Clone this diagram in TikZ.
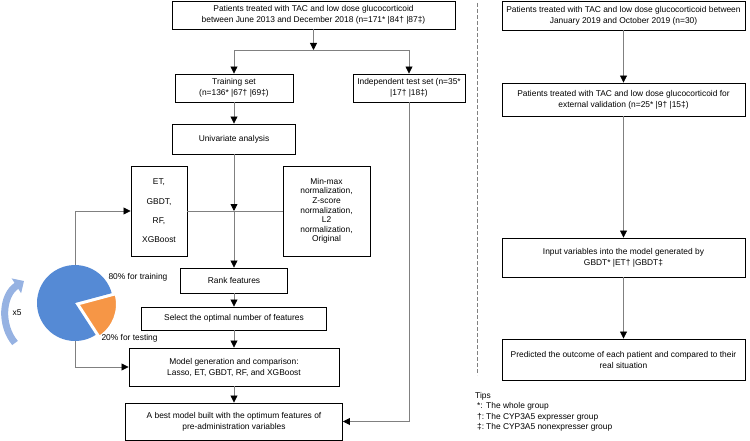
\documentclass[tikz,border=0pt]{standalone}
\usepackage{fontspec}
\setmainfont{Liberation Sans}
\usetikzlibrary{arrows.meta}

\definecolor{pieblue}{RGB}{85,138,213}
\definecolor{pieorange}{RGB}{246,150,70}
\definecolor{loopblue}{RGB}{150,178,226}

\begin{document}
\begin{tikzpicture}[x=1pt, y=-1pt,
  every node/.style={font=\fontsize{8.4}{11}\selectfont},
  box/.style={draw=black, line width=0.9pt, align=center, inner sep=0pt},
  link/.style={draw=gray, line width=0.8pt},
  arr/.style={link, -{Triangle[length=7pt,width=7pt,color=black]}}]
\useasboundingbox (0,0) rectangle (750,441);

% Derivation cohort
\node[box, minimum width=283, minimum height=28] (top) at (313.5,15) {Patients treated with TAC and low dose glucocorticoid\\between June 2013 and December 2018 (n=171* |84† |87‡)};
\coordinate (split) at (313.5,50);

\node[box, minimum width=118, minimum height=28] (train) at (234,88) {Training set\\(n=136* |67† |69‡)};
\node[box, minimum width=112, minimum height=28] (indep) at (409,88) {Independent test set (n=35*\\|17† |18‡)};

\node[box, minimum width=123, minimum height=30] (univ) at (234,139) {Univariate analysis};

% Algorithms and normalization
\node[box, minimum width=56, minimum height=90] (algo) at (159,211) {ET,\\[8.3pt]GBDT,\\[8.3pt]RF,\\[8.3pt]XGBoost};
\node[box, minimum width=87, minimum height=90, font=\fontsize{8.4}{9.6}\selectfont] (norm) at (326.5,211) {Min-max\\normalization,\\Z-score\\normalization,\\L2\\normalization,\\Original};
\coordinate (hub) at (234,211);

\node[box, minimum width=107, minimum height=25] (rank) at (234,280.5) {Rank features};
\node[box, minimum width=185, minimum height=23] (select) at (234,318.5) {Select the optimal number of features};
\node[box, minimum width=210, minimum height=38] (model) at (234,367) {Model generation and comparison:\\Lasso, ET, GBDT, RF, and XGBoost};
\node[box, minimum width=217, minimum height=37] (best) at (234,421.5) {A best model built with the optimum features of\\pre-administration variables};

% Cross validation pie
\coordinate (pie) at (75,303);
\fill[pieblue] (pie) -- ++(57:38) arc[start angle=57, end angle=345, radius=38] -- cycle;
\filldraw[pieorange, draw=white, line width=1.5pt] ([shift={(21:4)}]pie) -- +(-15:38) arc[start angle=-15, end angle=57, radius=38] -- cycle;
\coordinate (pietop) at (75,265);
\coordinate (piebot) at (75,341);
\node[anchor=west] (ptrain) at (105,277) {80\% for training};
\node[anchor=west] (ptest) at (98,338) {20\% for testing};
\draw[line width=7pt, loopblue, -{Triangle[length=9pt,width=17pt]}] (15,343) .. controls (0,325) and (2,295) .. (24,281);
\node (times) at (17,313) {x5};

% Arrows left part
\draw[arr] (top.south) -- (split);
\draw[arr] (split) -| (train.north);
\draw[arr] (split) -| (indep.north);
\draw[arr] (train) -- (univ);
\draw[arr] (univ) -- (hub);
\draw[link] (algo.east) -- (norm.west);
\draw[arr] (hub) -- (rank);
\draw[arr] (rank) -- (select);
\draw[arr] (select) -- (model);
\draw[arr] (model) -- (best);
\draw[arr] (pietop) |- (algo.west);
\draw[arr] (piebot) |- (model.west);
\draw[arr] (indep.south) |- (best.east);

% Separator
\draw[gray, line width=0.6pt, dash pattern=on 4pt off 2pt] (477,3) -- (477,375);

% External validation cohort
\node[box, minimum width=243, minimum height=29] (ext) at (623.5,15.5) {Patients treated with TAC and low dose glucocorticoid between\\January 2019 and October 2019 (n=30)};
\node[box, minimum width=243, minimum height=33] (extval) at (623.5,99.5) {Patients treated with TAC and low dose glucocorticoid for\\external validation (n=25* |9† |15‡)};
\node[box, minimum width=243, minimum height=39] (input) at (623.5,257.5) {Input variables into the model generated by\\GBDT* |ET† |GBDT‡};
\node[box, minimum width=243, minimum height=41] (pred) at (623.5,359.5) {Predicted the outcome of each patient and compared to their\\real situation};

\draw[arr] (ext) -- (extval);
\draw[arr] (extval) -- (input);
\draw[arr] (input) -- (pred);

% Tips
\node[anchor=north west, align=left, inner sep=0pt, font=\fontsize{8.4}{10.5}\selectfont] (tips) at (475,392) {Tips\\
\hspace{2pt}\makebox[9pt][l]{*:}The whole group\\
\hspace{2pt}\makebox[9pt][l]{†:}The CYP3A5 expresser group\\
\hspace{2pt}\makebox[9pt][l]{‡:}The CYP3A5 nonexpresser group};

\end{tikzpicture}
\end{document}
